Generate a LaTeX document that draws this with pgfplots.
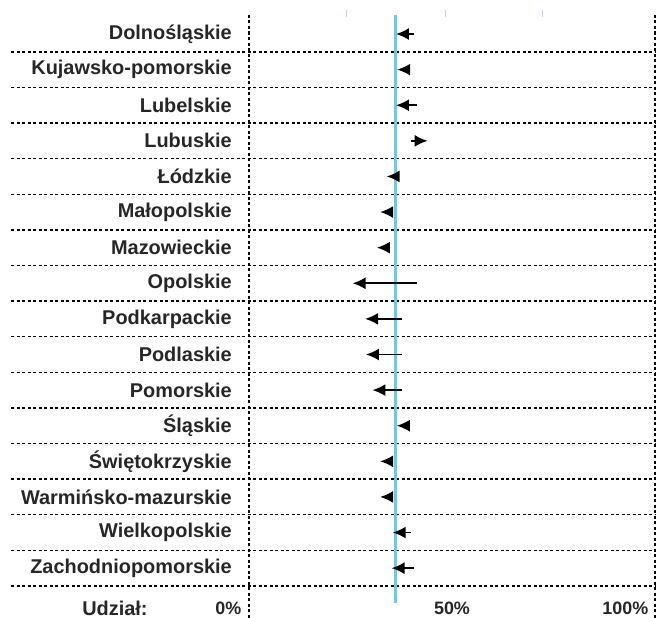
\documentclass[border=0pt]{standalone}
\usepackage{fontspec}
\setmainfont{Liberation Sans}
\usepackage{pgfplots}
\usepackage{pgfplotstable}
\pgfplotsset{compat=1.18}
\usetikzlibrary{arrows.meta,calc}
\definecolor{refblue}{RGB}{120,198,220}
\definecolor{ruler}{RGB}{200,212,232}

\pgfplotstableread{
y start end
1  40.6 36.2
2  39.2 36.5
3  41.3 36.2
4  39.8 44.0
5  36.8 33.9
6  35.5 32.3
7  34.5 31.5
8  41.5 25.5
9  37.6 28.6
10 37.6 28.8
11 37.6 30.4
12 39.0 36.4
13 35.4 32.3
14 35.4 32.3
15 39.8 35.4
16 40.6 35.1
}\arrowdata

\tikzset{dots/.style={black, line width=1.4bp, dash pattern=on 3bp off 2.5bp}}

\begin{document}
\begin{tikzpicture}
\begin{axis}[
  scale only axis, width=406bp, height=603bp,
  xmin=0, xmax=100, ymin=0.466, ymax=17.4, y dir=reverse,
  axis line style={draw=none},
  xtick=\empty,
  ytick={1,...,16},
  yticklabels={Dolnośląskie,Kujawsko-pomorskie,Lubelskie,Lubuskie,Łódzkie,Małopolskie,Mazowieckie,Opolskie,Podkarpackie,Podlaskie,Pomorskie,Śląskie,Świętokrzyskie,Warmińsko-mazurskie,Wielkopolskie,Zachodniopomorskie},
  major tick length=0pt,
  yticklabel style={font=\bfseries\fontsize{20}{24}\selectfont, text=black!85, anchor=east, inner sep=0pt, xshift=-17bp},
  clip=false,
]
\pgfplotsinvokeforeach{1,...,16}{
  \draw[dots] (axis cs:-58.6,#1+0.5) -- (axis cs:100,#1+0.5);
}
\draw[dots] (axis cs:0,0.466) -- (axis cs:0,17.4);
\draw[dots] (axis cs:100,0.466) -- (axis cs:100,17.4);
\addplot[refblue, line width=3bp] coordinates {(36.2,0.466) (36.2,16.98)};
\addplot[ruler, line width=1bp] coordinates {(24.1,0.33) (24.1,0.52)};
\addplot[ruler, line width=1bp] coordinates {(48.3,0.33) (48.3,0.52)};
\addplot[ruler, line width=1bp] coordinates {(72.4,0.33) (72.4,0.52)};
\addplot[black, line width=1.8bp, -{Latex[length=13bp,width=12bp]},
  quiver={u=\thisrow{end}-\thisrow{start}, v=0}] table[x=start, y=y] {\arrowdata};
\node[anchor=east, text=black!85, font=\bfseries\fontsize{20}{24}\selectfont] at (axis cs:-24.1,17.12) {Udział:};
\node[anchor=east, text=black!85, font=\bfseries\fontsize{18}{21}\selectfont] at (axis cs:-1,17.12) {0\%};
\node[anchor=center, text=black!85, font=\bfseries\fontsize{18}{21}\selectfont] at (axis cs:50,17.12) {50\%};
\node[anchor=east, text=black!85, font=\bfseries\fontsize{18}{21}\selectfont] at (axis cs:99.2,17.12) {100\%};
\coordinate (BL) at (axis cs:0,17.4);
\coordinate (TR) at (axis cs:100,0.466);
\end{axis}
\pgfresetboundingbox
\path[use as bounding box] ($(BL)+(-249bp,0)$) rectangle ($(TR)+(4bp,15bp)$);
\end{tikzpicture}
\end{document}
